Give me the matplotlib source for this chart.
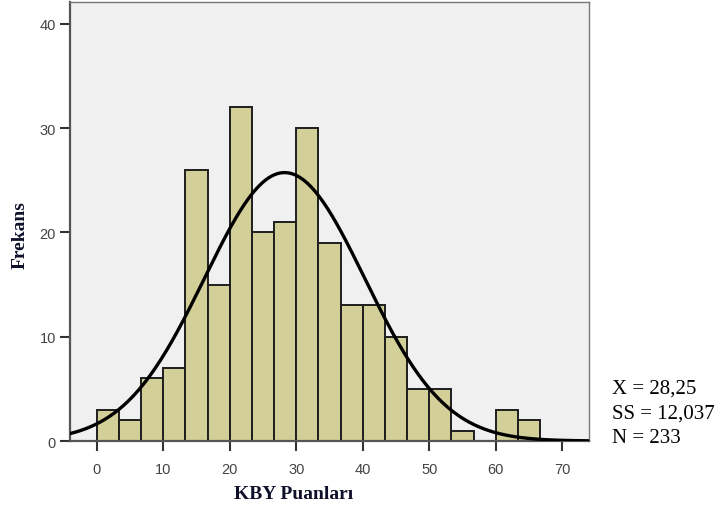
import numpy as np
import matplotlib.pyplot as plt

# histogram bins (left edges) and counts
bin_width = 10 / 3
bin_lefts = [i * bin_width for i in range(20)]
counts = [3, 2, 6, 7, 26, 15, 32, 20, 21, 30, 19, 13, 13, 10, 5, 5, 1, 0, 3, 2]

mean_val = 28.25
sd_val = 12.037
n_val = 233

x_ticks = [0, 10, 20, 30, 40, 50, 60, 70]
y_ticks = [0, 10, 20, 30, 40]

fig = plt.figure(figsize=(7.16, 5.10), dpi=100)
ax = fig.add_axes([70 / 716, 1 - 442 / 510, (589 - 70) / 716, (442 - 3) / 510])
ax.set_facecolor('#F0F0F0')

ax.bar(bin_lefts, counts, width=bin_width, align='edge',
       color='#D3CF98', edgecolor='#1e1e1e', linewidth=1.4, zorder=2)

# normal curve scaled to counts
xs = np.linspace(-4, 74, 400)
pdf = np.exp(-0.5 * ((xs - mean_val) / sd_val) ** 2) / (sd_val * np.sqrt(2 * np.pi))
ax.plot(xs, pdf * n_val * bin_width, color='black', linewidth=2.4, zorder=3)

ax.set_xlim(-4, 74)
ax.set_ylim(0, 42.1)
ax.set_xticks(x_ticks)
ax.set_yticks(y_ticks)
ax.tick_params(axis='both', direction='out', length=7, width=1.5, color='#333333',
               labelsize=10.5, labelcolor='#444444', pad=3)
ax.tick_params(axis='x', pad=8)
for lbl in ax.get_xticklabels() + ax.get_yticklabels():
    lbl.set_family('Liberation Sans')
for side in ['left', 'bottom']:
    ax.spines[side].set_color('#555555')
    ax.spines[side].set_linewidth(1.6)
for side in ['top', 'right']:
    ax.spines[side].set_color('#777777')
    ax.spines[side].set_linewidth(1.0)

label_font = dict(family='Liberation Serif', weight='bold', size=14, color='#10102a')
fig.text(294 / 716, 1 - 495 / 510, 'KBY Puanları', ha='center', va='center', **label_font)
fig.text(20 / 716, 1 - 235 / 510, 'Frekans', ha='center', va='center', rotation=90, **label_font)

stat_lines = [f'X = {mean_val:.2f}', f'SS = {sd_val:.3f}', f'N = {n_val}']
for line, base_y in zip(stat_lines, [394, 418.5, 443]):
    fig.text(612 / 716, 1 - base_y / 510, line.replace('.', ','), ha='left', va='baseline',
             family='Liberation Serif', size=15, color='black')

fig.savefig('out.png', dpi=100)
